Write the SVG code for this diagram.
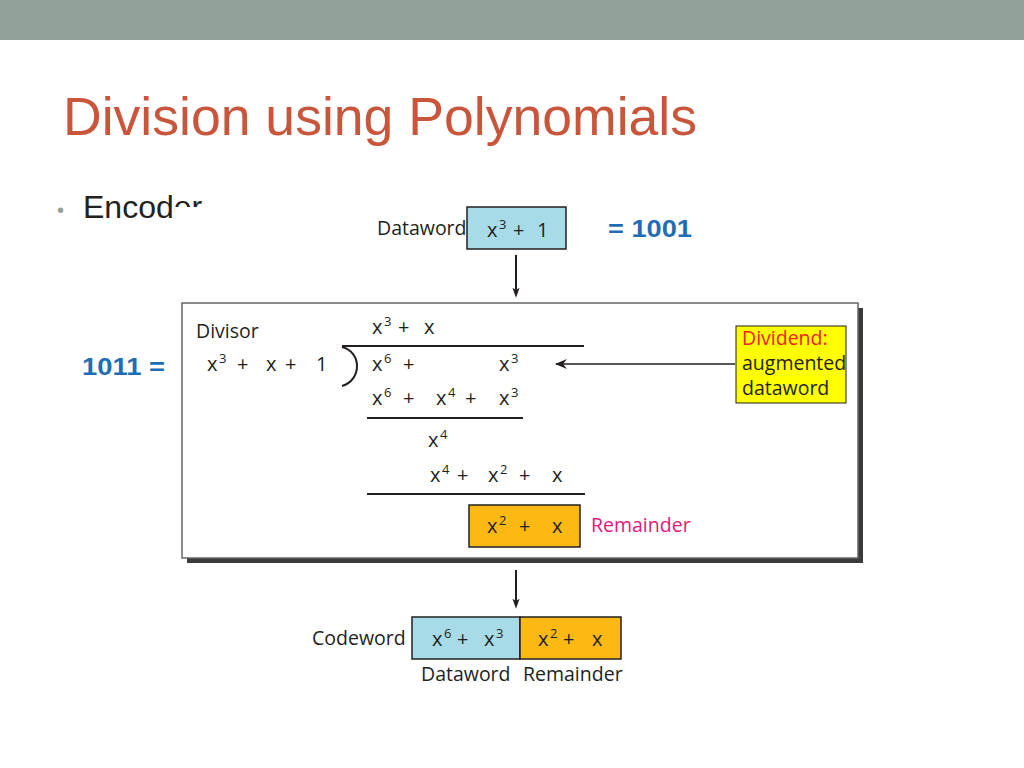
<svg xmlns="http://www.w3.org/2000/svg" width="1024" height="768" viewBox="0 0 1024 768">
<defs>
<style>
.t{font-family:"Open Sans","Liberation Sans",sans-serif;font-size:19.5px;fill:#231f20}
.m{font-family:"Open Sans","Liberation Sans",sans-serif;font-size:20px;fill:#231f20}
.s{font-family:"Open Sans","Liberation Sans",sans-serif;font-size:13px;fill:#231f20}
.ln{stroke:#231f20;stroke-width:2;fill:none}
.box{stroke:#231f20;stroke-width:1.5}
.blue{font-family:"Liberation Sans",Arial,sans-serif;font-size:24px;font-weight:bold;fill:#1f6db4}
</style>
<marker id="ah" viewBox="0 0 10 14" refX="10" refY="5" markerWidth="14" markerHeight="10" markerUnits="userSpaceOnUse" orient="auto">
<path d="M0,0 L14,5 L0,10 L3,5 z" fill="#231f20"/>
</marker>
<marker id="ah2" viewBox="0 0 12 10" refX="11" refY="5" markerWidth="12" markerHeight="10" markerUnits="userSpaceOnUse" orient="auto">
<path d="M0,0 L12,5 L0,10 L4,5 z" fill="#231f20"/>
</marker>
</defs>
<rect x="0" y="0" width="1024" height="768" fill="#ffffff"/>
<rect x="0" y="0" width="1024" height="40" fill="#92a199"/>
<text x="63" y="135" font-family="Liberation Sans,Arial,sans-serif" font-size="54" fill="#c9553b" textLength="634" lengthAdjust="spacingAndGlyphs">Division using Polynomials</text>
<text x="57" y="217" font-family="Liberation Sans,Arial,sans-serif" font-size="20" fill="#92a199">•</text>
<text x="83" y="218" font-family="Liberation Sans,Arial,sans-serif" font-size="32" fill="#222222">Encoder</text>
<rect x="175" y="207" width="45" height="20" fill="#ffffff"/>
<rect x="204" y="190" width="20" height="20" fill="#ffffff"/>

<g id="dataword">
<text class="t" x="377" y="235">Dataword</text>
<rect class="box" x="467" y="207" width="99" height="42" fill="#a8dbe8"/>
<text class="m" x="487" y="237">x</text><text class="s" x="499" y="229">3</text>
<text class="m" x="513" y="237">+</text><text class="m" x="537" y="237">1</text>
</g>
<text class="blue" x="608" y="237" textLength="84" lengthAdjust="spacingAndGlyphs">= 1001</text>
<text class="blue" x="82" y="375" textLength="83" lengthAdjust="spacingAndGlyphs">1011 =</text>

<g id="division">
<rect x="187" y="308" width="676" height="255" fill="#3a3a3a"/>
<rect x="182" y="303" width="676" height="255" fill="#ffffff" stroke="#666666" stroke-width="1.5"/>
<text class="t" x="196" y="338">Divisor</text>
<text class="m" x="207" y="371">x</text><text class="s" x="219" y="363">3</text>
<text class="m" x="237" y="371">+</text>
<text class="m" x="266" y="371">x</text>
<text class="m" x="285" y="371">+</text>
<text class="m" x="316" y="371">1</text>
<path class="ln" d="M342,347 C362,352 362,380 342,386"/>
<line class="ln" x1="342" y1="346" x2="584" y2="346"/>
<text class="m" x="372" y="334">x</text><text class="s" x="384" y="326">3</text>
<text class="m" x="398" y="334">+</text><text class="m" x="424" y="334">x</text>
<text class="m" x="372" y="371">x</text><text class="s" x="384" y="363">6</text>
<text class="m" x="403" y="371">+</text>
<text class="m" x="499" y="371">x</text><text class="s" x="511" y="363">3</text>
<text class="m" x="372" y="405">x</text><text class="s" x="384" y="397">6</text>
<text class="m" x="403" y="405">+</text>
<text class="m" x="436" y="405">x</text><text class="s" x="448" y="397">4</text>
<text class="m" x="465" y="405">+</text>
<text class="m" x="499" y="405">x</text><text class="s" x="511" y="397">3</text>
<line class="ln" x1="367" y1="418" x2="523" y2="418"/>
<text class="m" x="428" y="447">x</text><text class="s" x="440" y="439">4</text>
<text class="m" x="430" y="482">x</text><text class="s" x="442" y="474">4</text>
<text class="m" x="457" y="482">+</text>
<text class="m" x="488" y="482">x</text><text class="s" x="500" y="474">2</text>
<text class="m" x="519" y="482">+</text>
<text class="m" x="552" y="482">x</text>
<line class="ln" x1="367" y1="494" x2="585" y2="494"/>
</g>

<g id="remainder">
<rect class="box" x="469" y="505" width="111" height="42" fill="#fdb913"/>
<text class="m" x="487" y="533">x</text><text class="s" x="499" y="525">2</text>
<text class="m" x="519" y="533">+</text>
<text class="m" x="552" y="533">x</text>
<text class="t" x="591" y="532" style="fill:#e2197c">Remainder</text>
</g>

<g id="dividend">
<rect x="736" y="326" width="110" height="77" fill="#ffff00" stroke="#231f20" stroke-width="1"/>
<text class="t" x="742" y="345" style="fill:#ed2024">Dividend:</text>
<text class="t" x="742" y="370">augmented</text>
<text class="t" x="742" y="395">dataword</text>
</g>

<g id="codeword">
<text class="t" x="312" y="645">Codeword</text>
<rect class="box" x="412" y="617" width="108" height="42" fill="#a8dbe8"/>
<rect class="box" x="520" y="617" width="101" height="42" fill="#fdb913"/>
<text class="m" x="432" y="646">x</text><text class="s" x="444" y="638">6</text>
<text class="m" x="457" y="646">+</text>
<text class="m" x="484" y="646">x</text><text class="s" x="496" y="638">3</text>
<text class="m" x="538" y="646">x</text><text class="s" x="550" y="638">2</text>
<text class="m" x="563" y="646">+</text>
<text class="m" x="592" y="646">x</text>
<text class="t" x="421" y="681">Dataword</text>
<text class="t" x="523" y="681">Remainder</text>
</g>

<g id="connectors">
<line class="ln" x1="516" y1="255" x2="516" y2="295" marker-end="url(#ah)"/>
<line x1="735" y1="364" x2="556" y2="364" stroke="#231f20" stroke-width="1.5" marker-end="url(#ah2)"/>
<line class="ln" x1="516" y1="570" x2="516" y2="606" marker-end="url(#ah)"/>
</g>
</svg>
